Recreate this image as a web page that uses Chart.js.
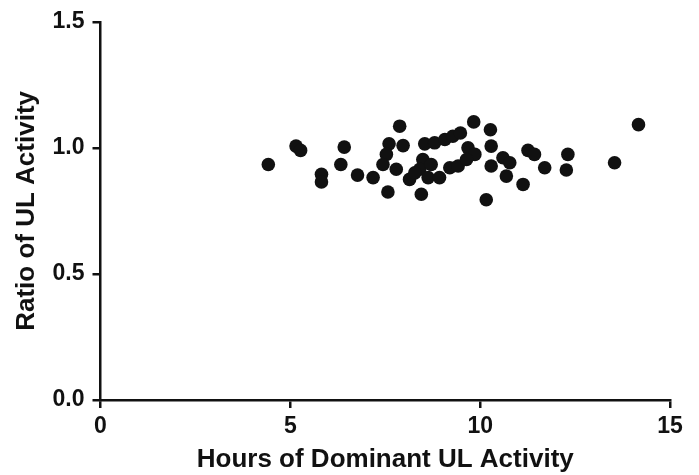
<!DOCTYPE html>
<html>
<head>
<meta charset="utf-8">
<script src="https://cdn.jsdelivr.net/npm/chart.js@4"></script>
<style>
  html, body { margin: 0; padding: 0; background: #fff; }
  #wrap { width: 699px; height: 475px; }
</style>
</head>
<body>
<div id="wrap"><canvas id="scatter"></canvas></div>
<script>
// Hours of dominant UL activity (x) vs ratio of UL activity (y)
const hours = [
    4.42, 5.15, 5.27, 6.42, 6.33, 5.82, 5.82, 6.77, 7.18,
    7.88, 7.6, 7.97, 7.53, 7.44, 7.79, 8.14, 7.57, 8.45,
    8.54, 8.8, 9.07, 9.28, 9.48, 9.68, 9.86, 8.49, 8.41, 8.28,
    8.63, 8.93, 9.2, 9.42, 9.64, 8.71, 9.83,
    10.27, 10.29, 10.29, 10.6, 10.78, 10.69, 11.13, 10.16,
    11.26, 11.43, 12.31, 11.7, 12.27, 13.54, 14.17
];
const ratios = [
    0.934, 1.007, 0.99, 1.003, 0.934, 0.895, 0.865, 0.892, 0.882,
    1.086, 1.016, 1.009, 0.974, 0.934, 0.915, 0.875, 0.825, 0.816,
    1.016, 1.02, 1.033, 1.046, 1.059, 1.0, 0.974, 0.954, 0.915, 0.901,
    0.882, 0.882, 0.921, 0.928, 0.954, 0.934, 1.103,
    1.072, 1.007, 0.928, 0.961, 0.941, 0.888, 0.855, 0.794,
    0.99, 0.974, 0.974, 0.921, 0.912, 0.941, 1.092
];
const xTicks = [0, 5, 10, 15];
const yTicks = [0, 0.5, 1.0, 1.5];

const points = hours.map((h, i) => ({ x: h, y: ratios[i] }));
const font = 'Liberation Sans, Arial, sans-serif';

new Chart(document.getElementById('scatter').getContext('2d'), {
    type: 'scatter',
    data: {
        datasets: [{
            data: points,
            backgroundColor: '#111',
            borderColor: '#111',
            borderWidth: 0,
            pointRadius: 6.8,
            pointHoverRadius: 6.8
        }]
    },
    options: {
        responsive: true,
        maintainAspectRatio: false,
        animation: false,
        layout: {
            padding: { top: 20, right: 29, bottom: 0, left: 0 }
        },
        plugins: {
            legend: { display: false },
            tooltip: { enabled: false }
        },
        scales: {
            x: {
                type: 'linear',
                min: 0,
                max: 15,
                afterFit: (axis) => { axis.height = 75; },
                afterBuildTicks: (axis) => { axis.ticks = xTicks.map(v => ({ value: v })); },
                border: { color: '#111', width: 2.5 },
                grid: {
                    drawOnChartArea: false,
                    drawTicks: true,
                    tickLength: 8,
                    color: '#111',
                    lineWidth: 2.5
                },
                ticks: {
                    color: '#111',
                    padding: 5,
                    font: { family: font, size: 23, weight: 'bold' }
                },
                title: {
                    display: true,
                    text: 'Hours of Dominant UL Activity',
                    color: '#111',
                    padding: 0,
                    font: { family: font, size: 26, weight: 'bold' }
                }
            },
            y: {
                type: 'linear',
                min: 0,
                max: 1.5,
                afterFit: (axis) => { axis.width = 100.5; },
                afterBuildTicks: (axis) => { axis.ticks = yTicks.map(v => ({ value: v })); },
                border: { color: '#111', width: 2.5 },
                grid: {
                    drawOnChartArea: false,
                    drawTicks: true,
                    tickLength: 8,
                    color: '#111',
                    lineWidth: 2.5
                },
                ticks: {
                    color: '#111',
                    padding: 8,
                    callback: (v) => v.toFixed(1),
                    font: { family: font, size: 23, weight: 'bold' }
                },
                title: {
                    display: true,
                    text: 'Ratio of UL Activity',
                    color: '#111',
                    padding: { top: 11, bottom: 0 },
                    font: { family: font, size: 26, weight: 'bold' }
                }
            }
        }
    }
});
</script>
</body>
</html>
